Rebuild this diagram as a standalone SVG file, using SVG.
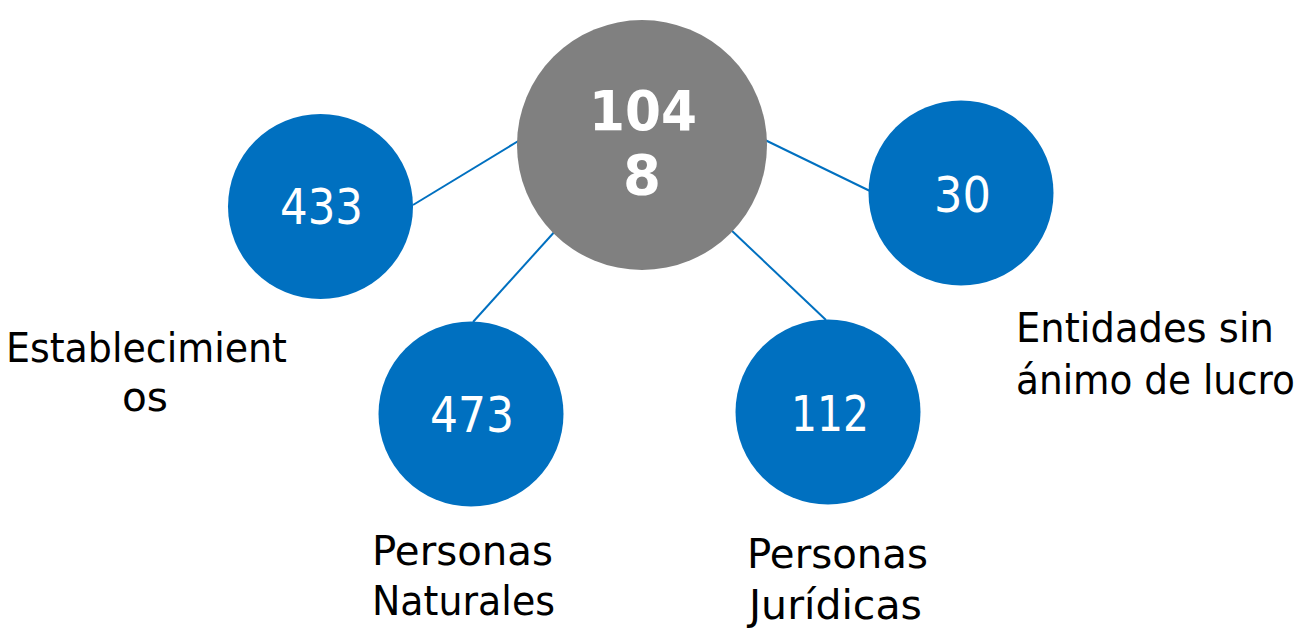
<svg xmlns="http://www.w3.org/2000/svg" width="1313" height="631" viewBox="0 0 1313 631">
<style>
.c{fill:#0070C0}
.n{font-family:"DejaVu Sans",sans-serif;font-size:49px;fill:#fff}
.b{font-family:"DejaVu Sans",sans-serif;font-size:55px;font-weight:bold;fill:#fff}
.l{font-family:"DejaVu Sans",sans-serif;font-size:41px;fill:#000}
.k{stroke:#0070C0;stroke-width:2;fill:none}
</style>
<rect width="1313" height="631" fill="#fff"/>
<g id="connectors">
<line class="k" x1="413" y1="205" x2="520" y2="140"/>
<line class="k" x1="765" y1="140" x2="870" y2="191"/>
<line class="k" x1="557" y1="229" x2="473" y2="322"/>
<line class="k" x1="730" y1="229" x2="826" y2="320"/>
</g>
<g id="center">
<circle cx="642" cy="145" r="125" fill="#808080"/>
<text class="b" x="589" y="130" textLength="108" lengthAdjust="spacingAndGlyphs">104</text>
<text class="b" x="623" y="194" textLength="38" lengthAdjust="spacingAndGlyphs">8</text>
</g>
<g id="establecimientos">
<circle class="c" cx="320.5" cy="206.5" r="92.5"/>
<text class="n" x="280" y="224" textLength="83" lengthAdjust="spacingAndGlyphs">433</text>
<text class="l" x="6" y="362" textLength="281" lengthAdjust="spacingAndGlyphs">Establecimient</text>
<text class="l" x="122" y="411" textLength="46" lengthAdjust="spacingAndGlyphs">os</text>
</g>
<g id="entidades">
<circle class="c" cx="961" cy="193" r="92.5"/>
<text class="n" x="934" y="212" textLength="57" lengthAdjust="spacingAndGlyphs">30</text>
<text class="l" x="1016" y="342" textLength="258" lengthAdjust="spacingAndGlyphs">Entidades sin</text>
<text class="l" x="1016" y="394" font-size="37" textLength="279" lengthAdjust="spacingAndGlyphs">ánimo de lucro</text>
</g>
<g id="naturales">
<circle class="c" cx="471" cy="414" r="92.5"/>
<text class="n" x="430" y="432" textLength="84" lengthAdjust="spacingAndGlyphs">473</text>
<text class="l" x="372" y="565" textLength="181" lengthAdjust="spacingAndGlyphs">Personas</text>
<text class="l" x="372" y="615" textLength="183" lengthAdjust="spacingAndGlyphs">Naturales</text>
</g>
<g id="juridicas">
<circle class="c" cx="828" cy="412" r="92.5"/>
<text class="n" x="791" y="431" textLength="78" lengthAdjust="spacingAndGlyphs">112</text>
<text class="l" x="747" y="568" textLength="181" lengthAdjust="spacingAndGlyphs">Personas</text>
<text class="l" x="749" y="619" textLength="173" lengthAdjust="spacingAndGlyphs">Jurídicas</text>
</g>
</svg>
